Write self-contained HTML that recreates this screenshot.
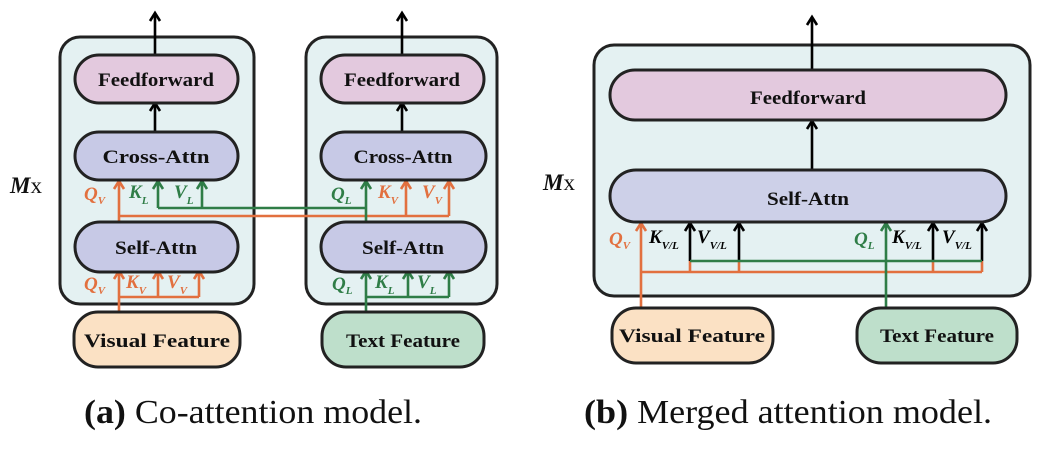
<!DOCTYPE html>
<html><head><meta charset="utf-8"><style>
html,body{margin:0;padding:0;background:#fff;}
svg{display:block;}
text{font-family:"Liberation Serif","Times New Roman",serif;}
.b{font-weight:bold;font-size:19px;text-anchor:middle;}
.lab{font-weight:bold;font-style:italic;font-size:19px;}
.sub{font-weight:bold;font-style:italic;font-size:11px;}
</style></head><body>
<svg width="1058" height="450" viewBox="0 0 1058 450" font-family="Liberation Serif, serif">
<g stroke-width="3">
<rect x="60" y="37" width="194" height="267" rx="20" fill="#e4f1f2" stroke="#222"/>
<rect x="306" y="37" width="191" height="267" rx="20" fill="#e4f1f2" stroke="#222"/>
<rect x="594" y="45" width="436" height="251" rx="20" fill="#e4f1f2" stroke="#222"/>
</g>
<g fill="none" stroke-width="2.6" stroke-linejoin="miter">
<!-- black lines -->
<path d="M155 54 V14 M155 132 V104 M402 54 V14 M402 132 V104 M812 70 V18 M812 170 V122 M690 261 V224 M739 261 V224 M933 261 V224 M982 261 V224" stroke="#000"/>
<!-- orange -->
<path d="M119 216 H449 M119 222 V182 M406 216 V182 M449 216 V182 M119 312 V272 M119 297 H199 M158 297 V272 M199 297 V272 M641 272 H982 M641 308 V224 M690 261 V272 M739 261 V272 M933 261 V272 M982 261 V272" stroke="#e2703f"/>
<!-- green -->
<path d="M158 208 H366 M158 208 V182 M202 208 V182 M366 222 V182 M366 312 V272 M366 297 H449 M408 297 V272 M449 297 V272 M690 261 H982 M886 308 V224" stroke="#2f7d47"/>
<!-- arrowheads -->
<path stroke="#000" d="M150 21 L155 13 L160 21 M150 111 L155 103 L160 111 M397 21 L402 13 L407 21 M397 111 L402 103 L407 111 M807 25 L812 17 L817 25 M807 129 L812 121 L817 129 M685 231 L690 223 L695 231 M734 231 L739 223 L744 231 M928 231 L933 223 L938 231 M977 231 L982 223 L987 231"/>
<path stroke="#e2703f" d="M114 189 L119 181 L124 189 M401 189 L406 181 L411 189 M444 189 L449 181 L454 189 M114 279 L119 271 L124 279 M153 279 L158 271 L163 279 M194 279 L199 271 L204 279 M636 231 L641 223 L646 231"/>
<path stroke="#2f7d47" d="M153 189 L158 181 L163 189 M197 189 L202 181 L207 189 M361 189 L366 181 L371 189 M361 279 L366 271 L371 279 M403 279 L408 271 L413 279 M444 279 L449 271 L454 279 M881 231 L886 223 L891 231"/>
</g>
<g stroke="#222" stroke-width="3">
<rect x="75" y="55" width="163" height="48" rx="24" fill="#e3c9de"/>
<rect x="75" y="132" width="163" height="48" rx="24" fill="#c7c9e6"/>
<rect x="75" y="222" width="163" height="50" rx="25" fill="#c7c9e6"/>
<rect x="321" y="55" width="163" height="48" rx="24" fill="#e3c9de"/>
<rect x="321" y="132" width="165" height="48" rx="24" fill="#c7c9e6"/>
<rect x="321" y="222" width="165" height="50" rx="25" fill="#c7c9e6"/>
<rect x="74" y="312" width="166" height="55" rx="24" fill="#fbe1c4"/>
<rect x="322" y="312" width="162" height="55" rx="24" fill="#bedfcb"/>
<rect x="610" y="70" width="396" height="50" rx="25" fill="#e3c9de"/>
<rect x="610" y="170" width="396" height="52" rx="26" fill="#cdd0e8"/>
<rect x="612" y="308" width="161" height="55" rx="24" fill="#fbe1c4"/>
<rect x="857" y="308" width="160" height="55" rx="24" fill="#bedfcb"/>
</g>
<g fill="#111">
<text class="b" x="156" y="86" textLength="116" lengthAdjust="spacingAndGlyphs">Feedforward</text>
<text class="b" x="156" y="163" textLength="107" lengthAdjust="spacingAndGlyphs">Cross-Attn</text>
<text class="b" x="156" y="254" textLength="82" lengthAdjust="spacingAndGlyphs">Self-Attn</text>
<text class="b" x="402" y="86" textLength="116" lengthAdjust="spacingAndGlyphs">Feedforward</text>
<text class="b" x="403" y="163" textLength="99" lengthAdjust="spacingAndGlyphs">Cross-Attn</text>
<text class="b" x="403" y="254" textLength="82" lengthAdjust="spacingAndGlyphs">Self-Attn</text>
<text class="b" x="157" y="347" textLength="146" lengthAdjust="spacingAndGlyphs">Visual Feature</text>
<text class="b" x="403" y="347" textLength="114" lengthAdjust="spacingAndGlyphs">Text Feature</text>
<text class="b" x="808" y="104" textLength="116" lengthAdjust="spacingAndGlyphs">Feedforward</text>
<text class="b" x="808" y="205" textLength="82" lengthAdjust="spacingAndGlyphs">Self-Attn</text>
<text class="b" x="692" y="342" textLength="146" lengthAdjust="spacingAndGlyphs">Visual Feature</text>
<text class="b" x="937" y="342" textLength="114" lengthAdjust="spacingAndGlyphs">Text Feature</text>
<text x="10" y="193" font-size="23"><tspan font-style="italic" font-weight="bold">M</tspan>x</text>
<text x="543" y="190" font-size="23"><tspan font-style="italic" font-weight="bold">M</tspan>x</text>
</g>
<g>
<text x="84" y="200" class="lab" fill="#e2703f">Q<tspan class="sub" dy="4">V</tspan></text>
<text x="129" y="198" class="lab" fill="#2f7d47">K<tspan class="sub" dy="6">L</tspan></text>
<text x="174" y="198" class="lab" fill="#2f7d47">V<tspan class="sub" dy="6">L</tspan></text>
<text x="331" y="200" class="lab" fill="#2f7d47">Q<tspan class="sub" dy="4">L</tspan></text>
<text x="378" y="198" class="lab" fill="#e2703f">K<tspan class="sub" dy="6">V</tspan></text>
<text x="422" y="198" class="lab" fill="#e2703f">V<tspan class="sub" dy="6">V</tspan></text>
<text x="84" y="290" class="lab" fill="#e2703f">Q<tspan class="sub" dy="4">V</tspan></text>
<text x="126" y="288" class="lab" fill="#e2703f">K<tspan class="sub" dy="6">V</tspan></text>
<text x="167" y="288" class="lab" fill="#e2703f">V<tspan class="sub" dy="6">V</tspan></text>
<text x="332" y="290" class="lab" fill="#2f7d47">Q<tspan class="sub" dy="4">L</tspan></text>
<text x="375" y="288" class="lab" fill="#2f7d47">K<tspan class="sub" dy="6">L</tspan></text>
<text x="417" y="288" class="lab" fill="#2f7d47">V<tspan class="sub" dy="6">L</tspan></text>
<text x="609" y="245" class="lab" fill="#e2703f">Q<tspan class="sub" dy="4">V</tspan></text>
<text x="649" y="243" class="lab" fill="#000">K<tspan class="sub" dy="6">V/L</tspan></text>
<text x="697" y="243" class="lab" fill="#000">V<tspan class="sub" dy="6">V/L</tspan></text>
<text x="854" y="245" class="lab" fill="#2f7d47">Q<tspan class="sub" dy="4">L</tspan></text>
<text x="892" y="243" class="lab" fill="#000">K<tspan class="sub" dy="6">V/L</tspan></text>
<text x="942" y="243" class="lab" fill="#000">V<tspan class="sub" dy="6">V/L</tspan></text>
</g>
<text x="84" y="423" font-size="34" fill="#111" textLength="338" lengthAdjust="spacingAndGlyphs"><tspan font-weight="bold">(a)</tspan> Co-attention model.</text>
<text x="584" y="423" font-size="34" fill="#111" textLength="408" lengthAdjust="spacingAndGlyphs"><tspan font-weight="bold">(b)</tspan> Merged attention model.</text>
</svg>
</body></html>
